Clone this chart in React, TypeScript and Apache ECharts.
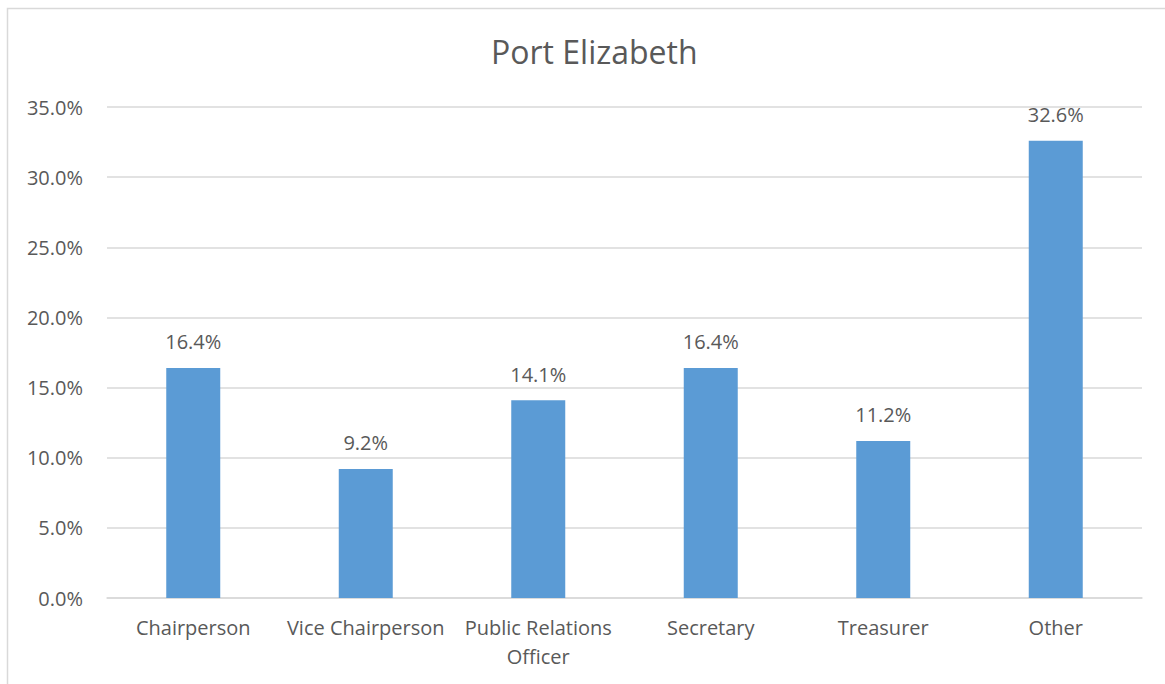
import React, { useEffect, useRef } from "react";
import * as echarts from "echarts";

const title = "Port Elizabeth";
const categories = ["Chairperson", "Vice Chairperson", "Public Relations Officer", "Secretary", "Treasurer", "Other"];
const values = [16.4, 9.2, 14.1, 16.4, 11.2, 32.6];
const yTicks = { min: 0, max: 35, interval: 5 };

export default function App() {
  const ref = useRef<HTMLDivElement>(null);
  useEffect(() => {
    if (!ref.current) return;
    const chart = echarts.init(ref.current, null, { renderer: "svg" });
    const font = "'Open Sans', sans-serif";
    const textColor = "#595959";
    chart.setOption({
      animation: false,
      backgroundColor: "#ffffff",
      title: {
        text: title,
        left: 486,
        top: 30,
        textStyle: { fontFamily: font, fontSize: 32, fontWeight: "normal", color: textColor },
      },
      graphic: [
        {
          type: "rect",
          shape: { x: 7.5, y: 8.5, width: 1200, height: 700 },
          style: { fill: "none", stroke: "#d9d9d9", lineWidth: 1.5 },
          silent: true,
        },
      ],
      grid: { left: 107, right: 23, top: 107, bottom: 86, containLabel: false },
      xAxis: {
        type: "category",
        data: categories,
        axisLine: { lineStyle: { color: "#d9d9d9", width: 1.5 } },
        axisTick: { show: false },
        axisLabel: {
          fontFamily: font,
          fontSize: 20,
          color: textColor,
          margin: 15,
          lineHeight: 29,
          interval: 0,
          formatter: (v: string) => v.replace("Public Relations ", "Public Relations\n"),
        },
      },
      yAxis: {
        type: "value",
        min: yTicks.min,
        max: yTicks.max,
        interval: yTicks.interval,
        axisLine: { show: false },
        axisTick: { show: false },
        splitLine: { lineStyle: { color: "#d9d9d9", width: 1.5 } },
        axisLabel: {
          fontFamily: font,
          fontSize: 20,
          color: textColor,
          margin: 24,
          formatter: (v: number) => v.toFixed(1) + "%",
        },
      },
      series: [
        {
          type: "bar",
          data: values,
          barWidth: 54,
          itemStyle: { color: "#5b9bd5" },
          label: {
            show: true,
            position: "top",
            distance: 16,
            fontFamily: font,
            fontSize: 20,
            color: textColor,
            formatter: (p: any) => p.value.toFixed(1) + "%",
          },
        },
      ],
    });
    return () => chart.dispose();
  }, []);
  return (
    <div
      ref={ref}
      style={{ position: "fixed", left: 0, top: 0, width: 1165, height: 684 }}
    />
  );
}
